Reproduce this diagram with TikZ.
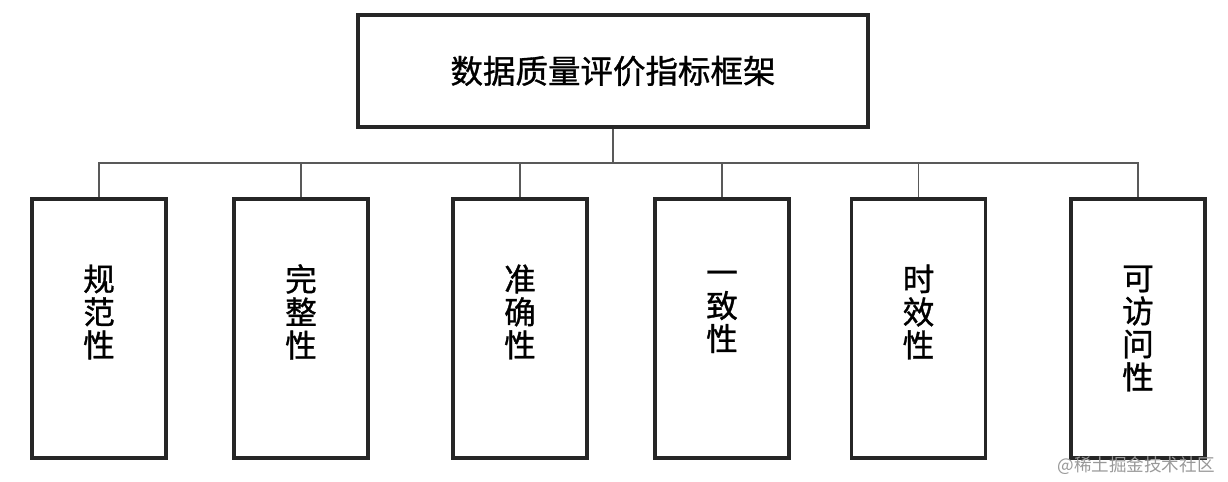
\documentclass[tikz,border=0pt]{standalone}
\usepackage{fontspec}
\newfontfamily\cjk[FakeBold=1]{Noto Sans CJK SC}
\newfontfamily\cjkmark{Noto Sans CJK SC}
\usetikzlibrary{positioning}

\begin{document}
\begin{tikzpicture}[
    x = 0.02cm, y = -0.02cm,
    semithick,
    root/.style={rectangle, draw=black!85, line width=2pt, minimum width=10.2cm, minimum height=2.24cm, font=\cjk\fontsize{18.5}{20}\selectfont},
    leaf/.style={rectangle, draw=black!85, line width=2pt, minimum width=2.68cm, minimum height=5.18cm, align=center, font=\cjk\fontsize{18}{18.8}\selectfont},
    link/.style={draw=black!65, line width=0.8pt}
]
    \useasboundingbox (0,0) rectangle (1228,482);

    \node[root] (frame) at (613,71) {数据质量评价指标框架};
    \coordinate (bus) at (613,163);

    \node[leaf] (norm) at (99,328.5) {规\\范\\性\\\phantom{性}};
    \node[leaf] (full) at (301,328.5) {完\\整\\性\\\phantom{性}};
    \node[leaf] (exact) at (520,328.5) {准\\确\\性\\\phantom{性}};
    \node[leaf] (same) at (722,328.5) {一\\致\\性\\\phantom{性}};
    \node[leaf] (time) at (918.5,328.5) {时\\效\\性\\\phantom{性}};
    \node[leaf] (access) at (1138,328.5) {可\\访\\问\\性};

    \draw[link] (frame.south) -- (bus);
    \draw[link] (norm.north) |- (bus) -| (access.north);
    \draw[link] (full.north) -- (full.north |- bus);
    \draw[link] (exact.north) -- (exact.north |- bus);
    \draw[link] (same.north) -- (same.north |- bus);
    \draw[link] (time.north) -- (time.north |- bus);

    \node[anchor=east, text=black!40, font=\cjkmark\fontsize{10}{11}\selectfont] (mark) at (1221,466) {@稀土掘金技术社区};
\end{tikzpicture}
\end{document}
